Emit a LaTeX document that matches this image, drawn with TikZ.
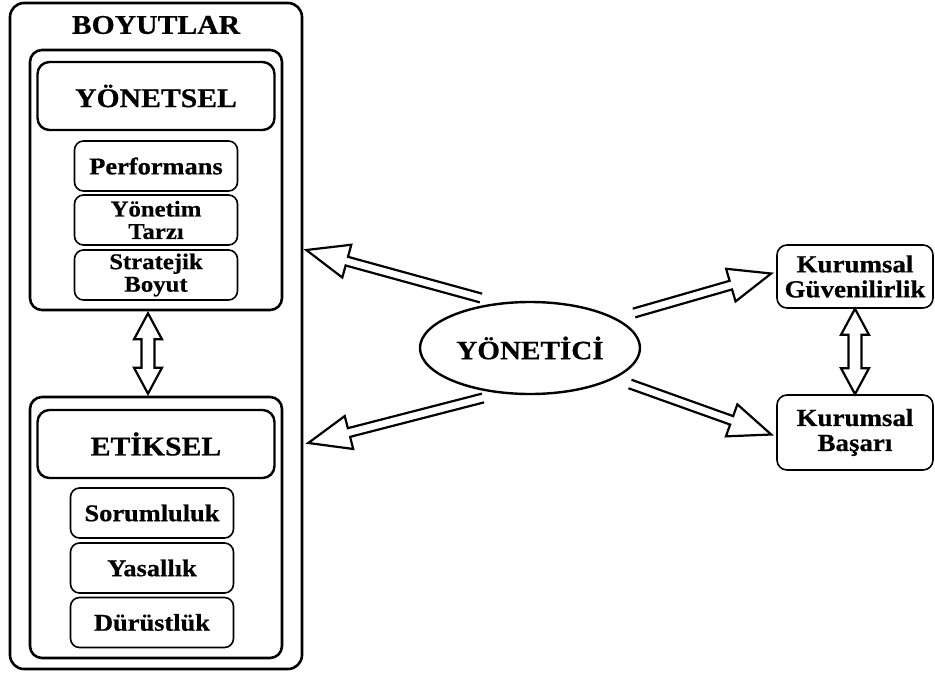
\documentclass[tikz,border=0pt]{standalone}
\usepackage{fontspec}
\setmainfont{Liberation Serif}[FakeStretch=1.1, BoldFeatures={FakeBold=0.6}]
\usetikzlibrary{calc,shapes.geometric}

% hollow arrow, tail #1, tip #2
\newcommand{\tekok}[2]{%
  \draw[okcizgi] let \p1=($(#2)-(#1)$), \n1={veclen(\x1,\y1)}, \n2={atan2(\y1,\x1)} in
    [shift={(#1)}, rotate=\n2]
    (0pt,4.5pt) -- (\n1-42pt,4.5pt) -- (\n1-42pt,17pt) -- (\n1,0pt)
    -- (\n1-42pt,-17pt) -- (\n1-42pt,-4.5pt) -- (0pt,-4.5pt);
}
% hollow arrow with two heads
\newcommand{\ciftok}[2]{%
  \draw[okcizgi] let \p1=($(#2)-(#1)$), \n1={veclen(\x1,\y1)}, \n2={atan2(\y1,\x1)} in
    [shift={(#1)}, rotate=\n2]
    (26pt,6.5pt) -- (\n1-26pt,6.5pt) -- (\n1-26pt,14pt) -- (\n1,0pt) -- (\n1-26pt,-14pt)
    -- (\n1-26pt,-6.5pt) -- (26pt,-6.5pt) -- (26pt,-14pt) -- (0pt,0pt) -- (26pt,14pt) -- cycle;
}

\begin{document}
\begin{tikzpicture}[x=1pt, y=-1pt,
  dis/.style={draw, line width=2.6pt, rounded corners=14pt},
  grup/.style={draw, line width=2.6pt, rounded corners=12pt, minimum width=252pt},
  ana/.style={draw, line width=2.4pt, rounded corners=12pt, minimum width=237pt, minimum height=68pt, font=\fontsize{27}{27}\selectfont\bfseries},
  kutu/.style={draw, line width=1.6pt, rounded corners=9pt, minimum width=163pt, minimum height=50pt, inner sep=0pt, align=center, font=\fontsize{24}{24}\selectfont\bfseries},
  iki/.style={font=\fontsize{22.5}{22.5}\selectfont\bfseries},
  sag/.style={kutu, minimum width=156pt, rounded corners=10pt, font=\fontsize{24.5}{25}\selectfont\bfseries},
  okcizgi/.style={line width=2.2pt, line join=miter},
  node distance=55pt
]
\useasboundingbox (0,0) rectangle (935,675);

% left block
\node[dis, minimum width=292pt, minimum height=666pt] (boyutlar) at (156,336) {};
\node[font=\fontsize{27}{27}\selectfont\bfseries] (baslik) at (156,25) {BOYUTLAR};

\node[grup, minimum height=260pt] (yonetselgrup) at (156,180) {};
\node[ana] (yonetsel) at (156,96) {YÖNETSEL};
\node[kutu, below of=yonetsel, node distance=70pt] (performans) {Performans};
\node[kutu, iki, below of=performans, node distance=54pt] (tarz) {Yönetim\\Tarzı};
\node[kutu, iki, below of=tarz] (strateji) {Stratejik\\Boyut};

\node[grup, minimum height=261pt] (etikselgrup) at (156,527.5) {};
\node[ana] (etiksel) at (156,444) {ETİKSEL};
\node[kutu, below of=etiksel, node distance=69pt, xshift=-4pt] (sorumluluk) {Sorumluluk};
\node[kutu, below of=sorumluluk] (yasallik) {Yasallık};
\node[kutu, below of=yasallik, node distance=54.5pt] (durustluk) {Dürüstlük};

% centre and right
\node[ellipse, draw, line width=2.4pt, minimum width=220pt, minimum height=92pt, inner sep=0pt,
  font=\fontsize{26.5}{26.5}\selectfont\bfseries] (yonetici) at (530,348) {YÖNETİCİ};
\node[sag, minimum height=63pt] (guven) at (855,276.5) {Kurumsal\\Güvenilirlik};
\node[sag, minimum height=75pt] (basari) at (855,432.5) {Kurumsal\\Başarı};

% arrow ends
\coordinate (a1) at ($(yonetici.center)+(-49,-50)$);
\coordinate (a2) at ($(boyutlar.east)+(3,-86)$);
\coordinate (b1) at ($(yonetici.center)+(-47,50)$);
\coordinate (b2) at ($(boyutlar.east)+(5,107)$);
\coordinate (c1) at ($(yonetici.center)+(104,-35)$);
\coordinate (c2) at ($(guven.west)+(-5,-3)$);
\coordinate (d1) at ($(yonetici.center)+(100,36)$);
\coordinate (d2) at ($(basari.west)+(-5,2)$);
\coordinate (v1) at ($(yonetselgrup.south)+(-8,2)$);
\coordinate (v2) at ($(etikselgrup.north)+(-8,-2)$);

\tekok{a1}{a2}
\tekok{b1}{b2}
\tekok{c1}{c2}
\tekok{d1}{d2}
\ciftok{v1}{v2}
\ciftok{guven.south}{basari.north}
\end{tikzpicture}
\end{document}
